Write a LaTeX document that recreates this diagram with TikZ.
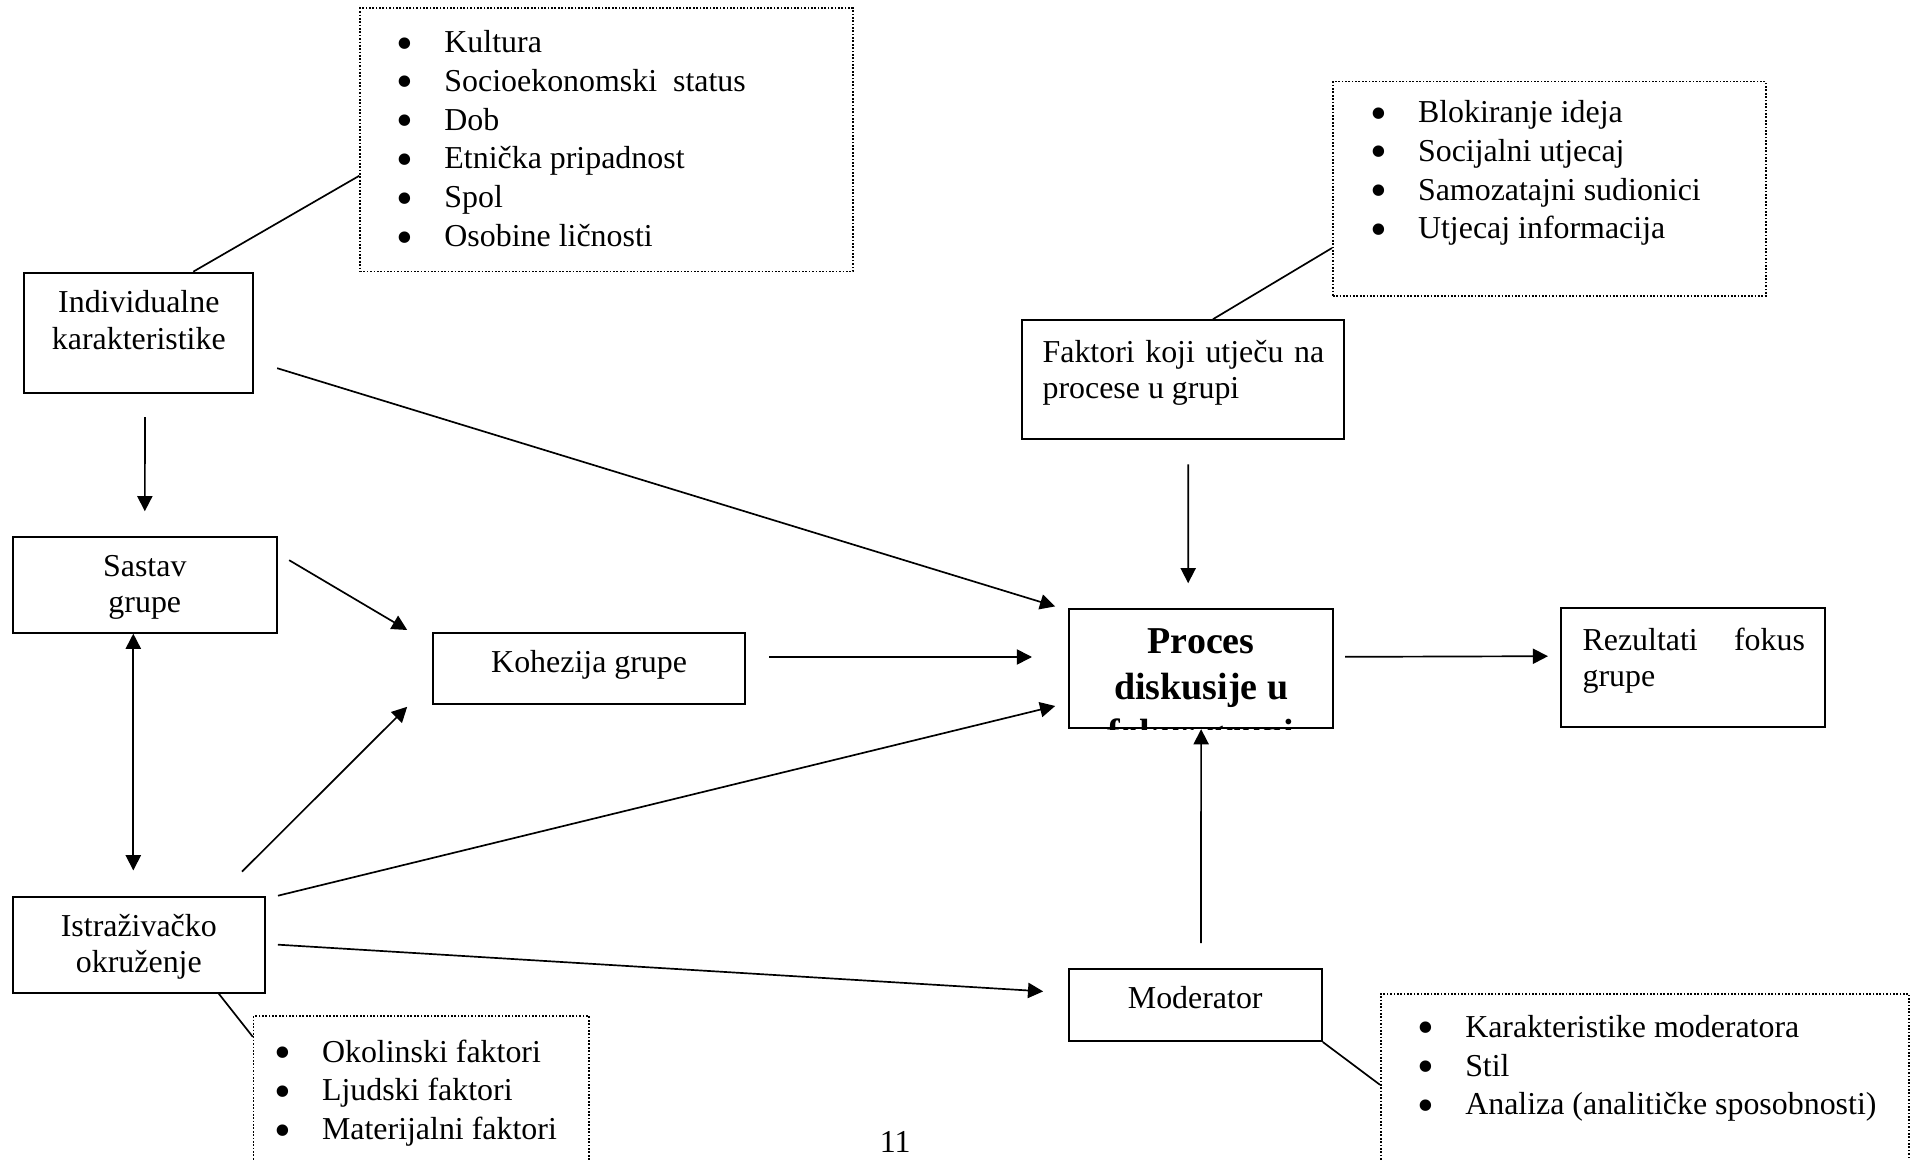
\documentclass[tikz,border=0pt]{standalone}
\usepackage{fontspec}
\setmainfont{Liberation Serif}
\usepackage{graphicx}
\usepackage{tikz}
\usetikzlibrary{arrows.meta}
\tikzset{
    plain-box/.style = {draw, line width=0.7pt, rectangle, inner sep=0pt, anchor=north west, font=\fontsize{11.35}{13}\selectfont},
    dotted-box/.style = {draw, line width=0.6pt, dash pattern=on 0.6pt off 0.6pt, rectangle, inner sep=0pt, anchor=north west, font=\fontsize{11.35}{13.8}\selectfont},
    link-line/.style = {line width=0.6pt},
    link-arrow/.style = {link-line, -{Triangle[length=1.9mm, width=1.9mm]}},
    link-both/.style = {link-line, {Triangle[length=1.9mm, width=1.9mm]}-{Triangle[length=1.9mm, width=1.9mm]}},
}
\newcommand{\boxtxt}[4]{\begin{minipage}[c][#2][t]{#1}\vspace*{#3}\rule{0pt}{9pt}#4\end{minipage}}
\newcommand{\itm}[1]{\makebox[6mm][l]{\smash{\raisebox{-2.35pt}{\scalebox{1.5}{\textbullet}}}}#1\par}

\begin{document}
\begin{tikzpicture}[x=1mm, y=1mm]
\useasboundingbox[fill=white] (0,0) rectangle (239.875,-144.875);

% left column
\node[plain-box] (ind) at (2.92,-33.96) {\boxtxt{28.62mm}{15mm}{1.83mm}{\centering Individualne\\karakteristike}};
\node[plain-box] (sas) at (1.46,-66.96) {\boxtxt{33.04mm}{12mm}{1.77mm}{\centering Sastav\\grupe}};
\node[plain-box] (ist) at (1.46,-111.96) {\boxtxt{31.54mm}{12mm}{1.77mm}{\centering Istraživačko\\okruženje}};
\node[plain-box] (koh) at (54.04,-78.96) {\boxtxt{38.96mm}{8.94mm}{1.77mm}{\centering Kohezija grupe}};

% centre and right
\node[plain-box] (fak) at (127.6,-39.9) {\boxtxt{40.3mm}{14.9mm}{2.1mm}{\leftskip=2.6mm \makebox[35.2mm][s]{Faktori koji utječu na}\\procese u grupi}};
\node[plain-box, minimum width=32.96mm, minimum height=14.94mm] (pro) at (133.54,-75.96) {};
\begin{scope}
\clip (pro.north west) rectangle (pro.south east);
\node[anchor=north, inner sep=0pt, font=\fontsize{13.5}{16.3}\selectfont\bfseries] (protxt) at (pro.north) {\boxtxt{33mm}{22mm}{2.5mm}{\centering Proces\\diskusije u\\fokus grupi}};
\end{scope}
\node[plain-box] (rez) at (195.0,-75.9) {\boxtxt{33mm}{14.9mm}{2.1mm}{\leftskip=2.7mm \makebox[27.8mm][s]{Rezultati fokus}\\grupe}};
\node[plain-box] (mod) at (133.46,-120.96) {\boxtxt{31.64mm}{9.04mm}{1.77mm}{\centering Moderator}};

% lists
\node[dotted-box] (kul) at (44.9,-0.92) {\boxtxt{61.6mm}{32.9mm}{2.37mm}{\leftskip=4.55mm \itm{Kultura}\itm{Socioekonomski\ \ status}\itm{Dob}\itm{Etnička pripadnost}\itm{Spol}\itm{Osobine ličnosti}}};
\node[dotted-box] (infl) at (166.5,-10.1) {\boxtxt{54.1mm}{26.8mm}{1.93mm}{\leftskip=4.65mm \itm{Blokiranje ideja}\itm{Socijalni utjecaj}\itm{Samozatajni sudionici}\itm{Utjecaj informacija}}};
\node[dotted-box] (env) at (31.6,-126.9) {\boxtxt{41.9mm}{25mm}{2.6mm}{\leftskip=2.55mm \itm{Okolinski faktori}\itm{Ljudski faktori}\itm{Materijalni faktori}}};
\node[dotted-box] (modk) at (172.5,-124.1) {\boxtxt{66mm}{25mm}{2.3mm}{\leftskip=4.55mm \itm{Karakteristike moderatora}\itm{Stil}\itm{Analiza (analitičke sposobnosti)}}};

\node[anchor=base, font=\fontsize{11.35}{13}\selectfont] (pgnum) at (111.9,-144.1) {11};

% connectors
\draw[link-line] ([xshift=6.8mm]ind.north) -- ([yshift=-4.5mm]kul.west);
\draw[link-line] ([xshift=3.75mm]fak.north) -- ([yshift=-20.9mm]infl.north west);
\draw[link-line] ([xshift=-5.9mm]ist.south east) -- ([yshift=-2.7mm]env.north west);
\draw[link-line] (mod.south east) -- ([yshift=-11.5mm]modk.north west);
\draw[link-arrow] ([xshift=0.77mm,yshift=-2.94mm]ind.south) -- ([yshift=3.06mm]sas.north);
\draw[link-both] ([xshift=-1.44mm]sas.south) -- ([xshift=-0.69mm,yshift=3.16mm]ist.north);
\draw[link-arrow] ([xshift=1.4mm,yshift=3.06mm]sas.east) -- ([xshift=-3.14mm,yshift=0.21mm]koh.north west);
\draw[link-arrow] ([xshift=-3mm,yshift=3mm]ist.north east) -- ([xshift=-3.14mm,yshift=-0.2mm]koh.south west);
\draw[link-arrow] ([xshift=2.86mm,yshift=-4.44mm]ind.east) -- ([xshift=-1.64mm,yshift=0.16mm]pro.north west);
\draw[link-arrow] ([xshift=1.5mm]ist.north east) -- ([xshift=-1.64mm,yshift=2.9mm]pro.south west);
\draw[link-arrow] ([xshift=2.9mm,yshift=1.43mm]koh.east) -- ([xshift=-4.54mm,yshift=1.43mm]pro.west);
\draw[link-arrow] ([xshift=1.4mm,yshift=1.45mm]pro.east) -- ([xshift=-1.5mm,yshift=1.45mm]rez.west);
\draw[link-arrow] ([xshift=0.65mm,yshift=-3mm]fak.south) -- ([xshift=-1.62mm,yshift=3.06mm]pro.north);
\draw[link-arrow] ([xshift=0.72mm,yshift=3.06mm]mod.north) -- (pro.south);
\draw[link-arrow] ([xshift=1.5mm]ist.east) -- ([xshift=-3.06mm,yshift=1.68mm]mod.west);
\end{tikzpicture}
\end{document}
